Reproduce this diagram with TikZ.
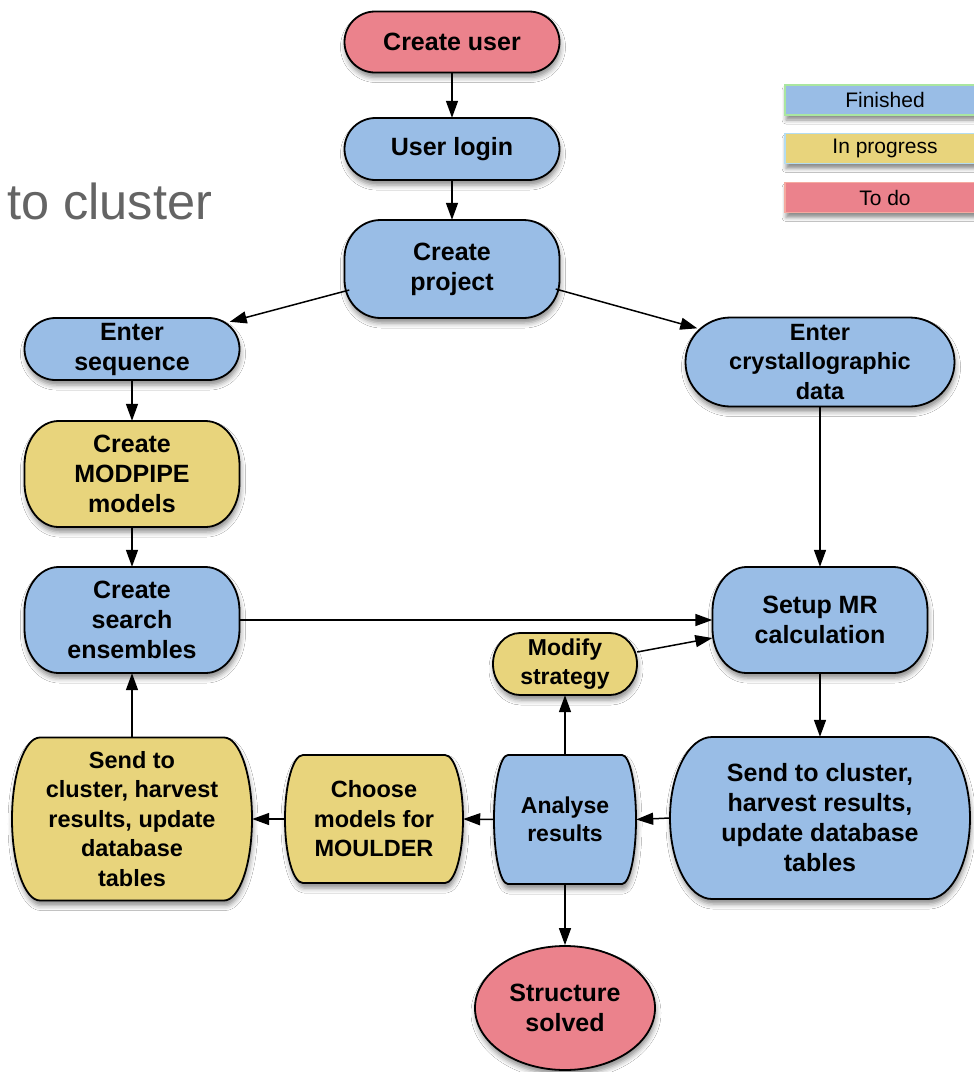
\documentclass[tikz,border=0pt]{standalone}
\usepackage{fontspec}
\setmainfont{Liberation Sans}
\usetikzlibrary{arrows.meta,shapes.geometric,shadows.blur,calc}

\definecolor{done}{RGB}{153,189,230}
\definecolor{doing}{RGB}{232,212,124}
\definecolor{todo}{RGB}{235,130,140}
\definecolor{keygreen}{RGB}{170,230,160}
\definecolor{keyblue}{RGB}{180,220,240}
\definecolor{keyred}{RGB}{245,170,160}
\definecolor{titlegrey}{RGB}{100,100,100}

\tikzset{
  softshadow/.style={blur shadow={shadow xshift=1pt,shadow yshift=-5pt,shadow blur radius=5pt,shadow opacity=45}},
  boxline/.style={draw=black, line width=1.8pt, softshadow},
  lbl/.style={inner sep=0pt, align=center},
  bigtext/.style={font=\bfseries\fontsize{25}{30}\selectfont},
  midtext/.style={font=\bfseries\fontsize{23.5}{29.5}\selectfont},
  smalltext/.style={font=\bfseries\fontsize{23}{28.5}\selectfont},
  flow/.style={-{Triangle[length=17pt,width=12pt]}, line width=1.5pt},
  keybox/.style={line width=1.5pt, minimum width=200pt, minimum height=30pt, inner sep=0pt,
    font=\fontsize{21}{25}\selectfont, blur shadow={shadow xshift=1pt,shadow yshift=-5pt,shadow blur radius=4pt,shadow opacity=45}},
}

% Process box: rectangle with elliptical corners, plus a named text node on top.
% #1 name, #2 cx, #3 cy (downwards), #4 width, #5 height, #6 corner x radius,
% #7 corner y radius, #8 fill colour, #9 text
\newcommand\flowbox[9]{%
  \path[boxline,fill=#8] (#2-#4/2+#6,-#3+#5/2) -- (#2+#4/2-#6,-#3+#5/2)
    arc[start angle=90,end angle=0,x radius=#6,y radius=#7]
    -- (#2+#4/2,-#3-#5/2+#7)
    arc[start angle=0,end angle=-90,x radius=#6,y radius=#7]
    -- (#2-#4/2+#6,-#3-#5/2)
    arc[start angle=270,end angle=180,x radius=#6,y radius=#7]
    -- (#2-#4/2,-#3+#5/2-#7)
    arc[start angle=180,end angle=90,x radius=#6,y radius=#7]
    -- cycle;
  \node[lbl, minimum width=#4pt, minimum height=#5pt] (#1) at (#2,-#3) {#9};%
}

\begin{document}
\begin{tikzpicture}[x=1pt,y=1pt]
\useasboundingbox (0,0) rectangle (974,-1072);
\clip (0,0) rectangle (974,-1072);
\fill[white] (0,0) rectangle (974,-1072);

% heading fragment
\node[anchor=base west, inner sep=0pt, text=titlegrey, font=\fontsize{50.5}{60}\selectfont]
  (heading) at (7,-219) {to cluster};

% legend
\node[keybox, fill=done, draw=keygreen] (kdone) at (885,-100) {Finished};
\node[keybox, fill=doing, draw=keyblue] (kdoing) at (885,-148.5) {In progress};
\node[keybox, fill=todo, draw=keyred] (ktodo) at (885,-197.5) {To do};

% boxes in large type
\begin{scope}[bigtext]
\flowbox{user}{452}{42}{215}{61}{30.5}{30.5}{todo}{Create user}
\flowbox{login}{452}{149}{215}{62}{31}{31}{done}{User login}
\flowbox{proj}{452}{269}{215}{98}{36}{38}{done}{Create\\project}
\flowbox{seq}{132}{349}{215}{62}{31}{31}{done}{Enter\\sequence}
\flowbox{modp}{132}{474}{215}{106}{34}{44}{doing}{Create\\MODPIPE\\models}
\flowbox{ens}{132}{620}{215}{106}{34}{44}{done}{Create\\search\\ensembles}
\flowbox{setup}{820}{620}{215}{106}{34}{44}{done}{Setup MR\\calculation}
\flowbox{rsend}{820}{818}{300}{162}{42}{81}{done}{Send to cluster,\\harvest results,\\update database\\tables}
\node[ellipse, boxline, fill=todo, lbl, minimum width=180pt, minimum height=124pt]
  (solved) at (565,-1008) {Structure\\solved};
\end{scope}

% boxes in medium type
\begin{scope}[midtext]
\flowbox{crys}{820}{362}{269}{89}{45}{44.5}{done}{Enter\\crystallographic\\data}
\flowbox{lsend}{132}{819}{240}{163}{28}{81.5}{doing}{Send to\\cluster, harvest\\results, update\\database\\tables}
\flowbox{chm}{374}{819}{178}{128}{18}{64}{doing}{Choose\\models for\\MOULDER}
\end{scope}

% boxes in smaller type
\begin{scope}[smalltext]
\flowbox{mod}{565}{664}{144}{62}{27}{31}{doing}{Modify\\strategy}
\flowbox{ana}{565}{819.5}{142}{129}{14}{64.5}{done}{Analyse\\results}
\end{scope}

% connectors
\draw[flow] (user.south) -- (login.north);
\draw[flow] (login.south) -- (proj.north);
\draw[flow] ($(proj.east)+(-4,-20)$) -- ($(crys.north west)+(12,-11)$);
\draw[flow] ($(proj.west)+(5,-21)$) -- ($(seq.north east)+(-10,-4)$);
\draw[flow] (seq.south) -- (modp.north);
\draw[flow] (modp.south) -- (ens.north);
\draw[flow] (ens.east) -- (setup.west);
\draw[flow] (crys.south) -- (setup.north);
\draw[flow] ($(mod.east)+(0,12)$) -- ($(setup.west)+(0,-18)$);
\draw[flow] (setup.south) -- (rsend.north);
\draw[flow] (rsend.west) -- (ana.east);
\draw[flow] (ana.north) -- (mod.south);
\draw[flow] (ana.west) -- (chm.east);
\draw[flow] (chm.west) -- (lsend.east);
\draw[flow] (lsend.north) -- (ens.south);
\draw[flow] (ana.south) -- (solved.north);
\end{tikzpicture}
\end{document}
